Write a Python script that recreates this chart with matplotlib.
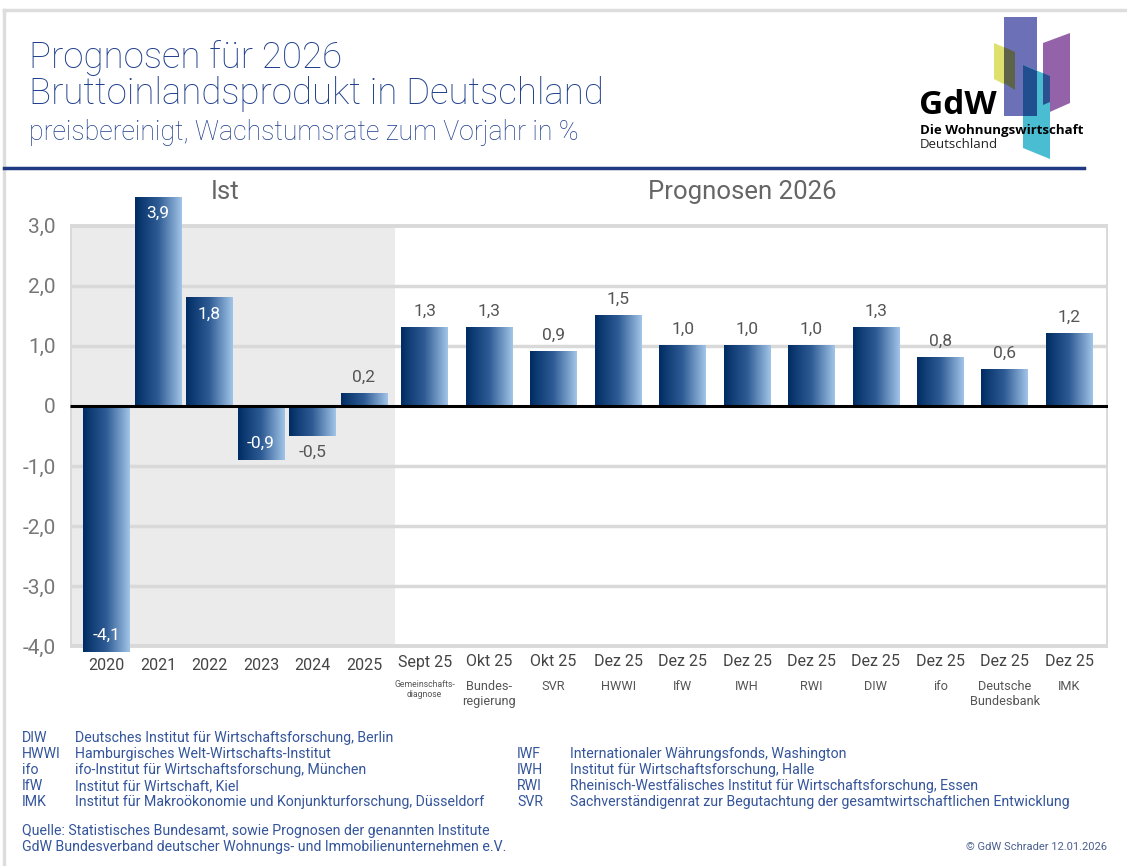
import numpy as np
import matplotlib
matplotlib.use('Agg')
import matplotlib.pyplot as plt
from matplotlib import font_manager
from matplotlib.font_manager import FontProperties
from matplotlib.colors import LinearSegmentedColormap
from matplotlib.patches import Rectangle, Polygon
from matplotlib.lines import Line2D

# data
years = ['2020', '2021', '2022', '2023', '2024', '2025']
ist_values = [-4.1, 3.9, 1.8, -0.9, -0.5, 0.2]

fc_dates = ['Sept 25', 'Okt 25', 'Okt 25', 'Dez 25', 'Dez 25', 'Dez 25',
            'Dez 25', 'Dez 25', 'Dez 25', 'Dez 25', 'Dez 25']
fc_sources = ['Gemeinschafts-\ndiagnose', 'Bundes-\nregierung', 'SVR', 'HWWI', 'IfW',
              'IWH', 'RWI', 'DIW', 'ifo', 'Deutsche\nBundesbank', 'IMK']
fc_values = [1.3, 1.3, 0.9, 1.5, 1.0, 1.0, 1.0, 1.3, 0.8, 0.6, 1.2]

yticks = [-4, -3, -2, -1, 0, 1, 2, 3]

legend_left = [('DIW', 'Deutsches Institut für Wirtschaftsforschung, Berlin'),
               ('HWWI', 'Hamburgisches Welt-Wirtschafts-Institut'),
               ('ifo', 'ifo-Institut für Wirtschaftsforschung, München'),
               ('IfW', 'Institut für Wirtschaft, Kiel'),
               ('IMK', 'Institut für Makroökonomie und Konjunkturforschung, Düsseldorf')]
legend_right = [('IWF', 'Internationaler Währungsfonds, Washington'),
                ('IWH', 'Institut für Wirtschaftsforschung, Halle'),
                ('RWI', 'Rheinisch-Westfälisches Institut für Wirtschaftsforschung, Essen'),
                ('SVR', 'Sachverständigenrat zur Begutachtung der gesamtwirtschaftlichen Entwicklung')]

names = {f.name for f in font_manager.fontManager.ttflist}
main = 'Roboto' if 'Roboto' in names else 'DejaVu Sans'
logo_font = 'Open Sans' if 'Open Sans' in names else 'DejaVu Sans'


def cfp(size):
    return FontProperties(family=main, size=size)


small_src = 6.2
src_size = 9.2

blue_txt = '#1f3f8c'
legend_col = '#34559b'

W, H = 1127, 866
fig = plt.figure(figsize=(W / 100, H / 100), dpi=100)


def fx(x):
    return x / W


def fy(y):
    return 1 - y / H


# frame and separator
fig.add_artist(Line2D([fx(4), fx(W)], [fy(10), fy(10)], color='#dddddd', lw=2.5))
fig.add_artist(Line2D([fx(4), fx(4)], [fy(10), 0], color='#dddddd', lw=2.5))
fig.add_artist(Line2D([fx(4), fx(1084)], [fy(168), fy(168)], color='#1f3a82', lw=2.5))

# titles
fig.text(fx(29), fy(68), 'Prognosen für 2026', fontsize=26.4, color=blue_txt,
         family=main, weight='light', va='baseline')
fig.text(fx(29), fy(104), 'Bruttoinlandsprodukt in Deutschland', fontsize=26.4,
         color=blue_txt, family=main, weight='light', va='baseline')
fig.text(fx(29), fy(140), 'preisbereinigt, Wachstumsrate zum Vorjahr in %', fontsize=19.2,
         color=blue_txt, family=main, weight='light', va='baseline')

# logo
fig.add_artist(Polygon([(fx(994), fy(43)), (fx(1015), fy(52)), (fx(1015), fy(90)), (fx(994), fy(79))],
                       closed=True, color='#dfe16f', lw=0))
fig.add_artist(Polygon([(fx(1043), fy(43)), (fx(1070), fy(33)), (fx(1070), fy(103)), (fx(1043), fy(115))],
                       closed=True, color='#9462a9', lw=0))
fig.add_artist(Rectangle((fx(1004), fy(116)), fx(33), fy(17) - fy(116), color='#6c71b7', lw=0))
fig.add_artist(Polygon([(fx(1004), fy(47)), (fx(1015), fy(52)), (fx(1015), fy(90)), (fx(1004), fy(83))],
                       closed=True, color='#5d6349', lw=0))
fig.add_artist(Polygon([(fx(1023), fy(65)), (fx(1050), fy(76)), (fx(1050), fy(159)), (fx(1023), fy(148))],
                       closed=True, color='#4bbdd3', lw=0))
fig.add_artist(Polygon([(fx(1023), fy(65)), (fx(1037), fy(71)), (fx(1037), fy(116)), (fx(1023), fy(116))],
                       closed=True, color='#1f4f8f', lw=0))
fig.add_artist(Polygon([(fx(1043), fy(73)), (fx(1050), fy(76)), (fx(1050), fy(102)), (fx(1043), fy(105))],
                       closed=True, color='#2c4f8f', lw=0))
fig.text(fx(919), fy(114), 'GdW', fontsize=24, weight='bold', family=logo_font, color='black', va='baseline')
fig.text(fx(920), fy(134), 'Die Wohnungswirtschaft', fontsize=9.5, weight='bold', family=logo_font,
         color='black', va='baseline')
fig.text(fx(920), fy(148), 'Deutschland', fontsize=9.5, family=logo_font, color='#222222', va='baseline')

# axes
ymin, ymax = -4.15, 3.48
ax = fig.add_axes([fx(70), fy(655), fx(1108) - fx(70), fy(197) - fy(655)])
ax.set_facecolor('none')
for s in ax.spines.values():
    s.set_visible(False)

ist_x = np.arange(len(ist_values), dtype=float)
fc_x = 6.18 + 1.252 * np.arange(len(fc_values))
xs = np.concatenate([ist_x, fc_x])
vals = ist_values + fc_values
xl, xr = -0.709, 19.45

# background box
ax.add_patch(Rectangle((xl, -4), 5.6 - xl, 7, facecolor='#ebebeb', edgecolor='none', zorder=0))
for g in [-3, -2, -1, 1, 2]:
    ax.plot([xl, xr], [g, g], color='#d9d9d9', lw=2.5, zorder=1, solid_capstyle='butt')
ax.add_patch(Rectangle((xl, -4), xr - xl, 7, facecolor='none', edgecolor='#d9d9d9', lw=2.8, zorder=1))

bars = ax.bar(xs, vals, width=0.91, facecolor='none', edgecolor='none', zorder=3)
cmap = LinearSegmentedColormap.from_list('bl', ['#002c63', '#2f5c95', '#a2c5e8'])
grad = np.linspace(0, 1, 256).reshape(1, -1)
for r in bars:
    x0, y0 = r.get_xy()
    w, h = r.get_width(), r.get_height()
    ax.imshow(grad, cmap=cmap, extent=(x0, x0 + w, min(y0, y0 + h), max(y0, y0 + h)),
              aspect='auto', zorder=3, interpolation='bilinear')

ax.plot([xl, xr], [0, 0], color='black', lw=2.2, zorder=4, solid_capstyle='butt')

# value labels
for i, (x, v) in enumerate(zip(xs, vals)):
    txt = ('%.1f' % v).replace('.', ',')
    inside = i < len(ist_values) and abs(v) >= 0.9
    if inside:
        top = min(v, ymax) if v > 0 else max(v, ymin)
        ax.annotate(txt, (x, top), xytext=(0, -12 if v > 0 else 12), textcoords='offset points',
                    ha='center', va='center', color='white', fontproperties=cfp(12.5), zorder=5)
    else:
        ax.annotate(txt, (x, v), xytext=(0, 12 if v > 0 else -12), textcoords='offset points',
                    ha='center', va='center', color='#555555', fontproperties=cfp(12.5), zorder=5)

ax.set_xlim(xl, xr)
ax.set_ylim(ymin, ymax)
ax.set_yticks(yticks)
ax.set_yticklabels([('%.1f' % t).replace('.', ',') if t != 0 else '0' for t in yticks])
ax.tick_params(axis='y', length=0, pad=10.5)
for lb in ax.get_yticklabels():
    lb.set_fontproperties(cfp(15))
    lb.set_color('#777777')
ax.set_xticks([])

tr = ax.get_xaxis_transform()
lab_y = -10 / 458
for x, y in zip(ist_x, years):
    ax.text(x, lab_y - 0.001, y, transform=tr, ha='center', va='center',
            color='#444444', fontproperties=cfp(11.5))
for x, d, s in zip(fc_x, fc_dates, fc_sources):
    ax.text(x, lab_y + 3 / 458, d, transform=tr, ha='center', va='center',
            color='#444444', fontproperties=cfp(11.5))
    fs = small_src if s.startswith('Gemein') else src_size
    ax.text(x, -25 / 458, s, transform=tr, ha='center', va='top',
            color='#555555', linespacing=1.2, fontproperties=cfp(fs))

# section headers
fig.text(fx(225), fy(192), 'Ist', fontsize=18.5, color='#666666', family=main,
         ha='center', va='center')
fig.text(fx(742), fy(192), 'Prognosen 2026', fontsize=18.5, color='#666666', family=main,
         ha='center', va='center')

# legend
lfs = 10.2
for k, (a, b) in enumerate(legend_left):
    yy = fy(738 + 16 * k)
    fig.text(fx(22), yy, a, fontsize=lfs, color=legend_col, family=main, va='center')
    fig.text(fx(75), yy, b, fontsize=lfs, color=legend_col, family=main, va='center')
for k, (a, b) in enumerate(legend_right):
    yy = fy(754 + 16 * k)
    fig.text(fx(517), yy, a, fontsize=lfs, color=legend_col, family=main, va='center')
    fig.text(fx(570), yy, b, fontsize=lfs, color=legend_col, family=main, va='center')

fig.text(fx(22), fy(831), 'Quelle: Statistisches Bundesamt, sowie Prognosen der genannten Institute',
         fontsize=lfs, color=legend_col, family=main, va='center')
fig.text(fx(22), fy(847), 'GdW Bundesverband deutscher Wohnungs- und Immobilienunternehmen e.V.',
         fontsize=lfs, color=legend_col, family=main, va='center')
fig.text(fx(1107), fy(847), '© GdW Schrader 12.01.2026', fontsize=8, color='#4a5f8f',
         family=main, ha='right', va='center')

fig.savefig('out.png', dpi=100)
